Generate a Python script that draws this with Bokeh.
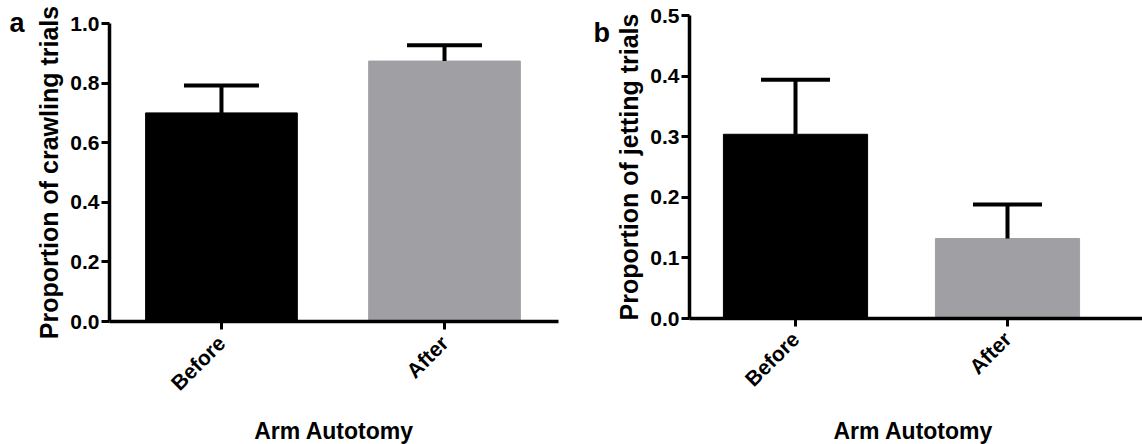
from math import pi
from bokeh.plotting import figure
from bokeh.models import (Range1d, FixedTicker, NumeralTickFormatter, Whisker, TeeHead,
                          ColumnDataSource)
from bokeh.core.properties import value
from bokeh.layouts import row, column
from bokeh.embed import file_html
from bokeh.resources import INLINE

categories = ["Before", "After"]
crawl_mean = [0.700, 0.874]
crawl_err = [0.092, 0.053]
jet_mean = [0.304, 0.132]
jet_err = [0.090, 0.056]
bar_colors = ["#000000", "#a0a0a4"]
crawl_ticks = [0.0, 0.2, 0.4, 0.6, 0.8, 1.0]
jet_ticks = [0.0, 0.1, 0.2, 0.3, 0.4, 0.5]
panel_letters = ["a", "b"]

FONT = "Liberation Sans"
H = 444


def make_panel(means, errs, yticks, ylabel, xlabel, frame_w, frame_h,
               bl, bt, br, bb, xstart, xend, cap, xlab_standoff, xtitle_standoff):
    xs = list(range(len(categories)))
    src = ColumnDataSource(dict(
        x=xs, top=means,
        upper=[m + e for m, e in zip(means, errs)],
        color=bar_colors))
    p = figure(frame_width=frame_w, frame_height=frame_h,
               x_range=Range1d(xstart, xend),
               y_range=Range1d(yticks[0], yticks[-1]),
               output_backend="svg", toolbar_location=None,
               min_border_left=bl, min_border_top=bt,
               min_border_right=br, min_border_bottom=bb)
    p.vbar(x="x", top="top", bottom=0, width=0.68, fill_color="color",
           line_color="color", source=src)
    w = Whisker(source=src, base="x", upper="upper", lower="top",
                upper_head=TeeHead(size=cap, line_width=4, line_color="black"),
                lower_head=None, line_width=4, line_color="black",
                level="annotation")
    p.add_layout(w)

    p.grid.visible = False
    p.outline_line_color = None

    p.xaxis.ticker = FixedTicker(ticks=xs)
    p.xaxis.major_label_overrides = {i: c for i, c in enumerate(categories)}
    p.xaxis.major_label_orientation = pi / 4
    p.yaxis.ticker = FixedTicker(ticks=yticks)
    p.yaxis.formatter = NumeralTickFormatter(format="0.0")

    for ax in (p.xaxis[0], p.yaxis[0]):
        ax.axis_line_width = 3.5
        ax.axis_line_color = "black"
        ax.major_tick_line_width = 3
        ax.major_tick_line_color = "black"
        ax.major_tick_out = 8
        ax.major_tick_in = 0
        ax.minor_tick_line_color = None
        ax.major_label_text_font = FONT
        ax.major_label_text_font_style = "bold"
        ax.major_label_text_font_size = "21px"
        ax.major_label_text_color = "black"
        ax.axis_label_text_font = FONT
        ax.axis_label_text_font_style = "bold"
        ax.axis_label_text_color = "black"

    p.yaxis.major_label_standoff = 2
    p.xaxis.major_label_standoff = xlab_standoff
    p.xaxis.axis_label = xlabel
    p.xaxis.axis_label_text_font_size = "23px"
    p.xaxis.axis_label_standoff = xtitle_standoff
    p.yaxis.axis_label = ylabel
    p.yaxis.axis_label_text_font_size = "25px"
    p.yaxis.axis_label_standoff = 4
    return p


def letter_fig(letter, width, x, y):
    f = figure(width=width, height=H, x_range=Range1d(0, width), y_range=Range1d(0, H),
               output_backend="svg", toolbar_location=None, min_border=0,
               x_axis_location=None, y_axis_location=None)
    f.grid.visible = False
    f.outline_line_color = None
    f.text(x=[x], y=[y], text=[letter], text_font=value(FONT), text_font_style="bold",
           text_font_size="27px", text_color="black", text_baseline="alphabetic")
    return f


fa = letter_fig(panel_letters[0], 32, 9, H - 22)
left = make_panel(crawl_mean, crawl_err, crawl_ticks,
                  "Proportion of crawling trials", "Arm Autotomy",
                  frame_w=449, frame_h=298, bl=77, bt=23, br=2, bb=H - 23 - 298,
                  xstart=-0.502, xend=1.511, cap=75, xlab_standoff=10, xtitle_standoff=12)
fb = letter_fig(panel_letters[1], 52, 33, H - 32)
right = make_panel(jet_mean, jet_err, jet_ticks,
                   "Proportion of jetting trials", "Arm  Autotomy",
                   frame_w=454, frame_h=303, bl=74, bt=15, br=0, bb=H - 15 - 303,
                   xstart=-0.5, xend=1.6415, cap=69, xlab_standoff=9, xtitle_standoff=16)

layout = row(column(fa), column(left), column(fb), column(right))
open("out.html", "w").write(file_html(layout, INLINE))
